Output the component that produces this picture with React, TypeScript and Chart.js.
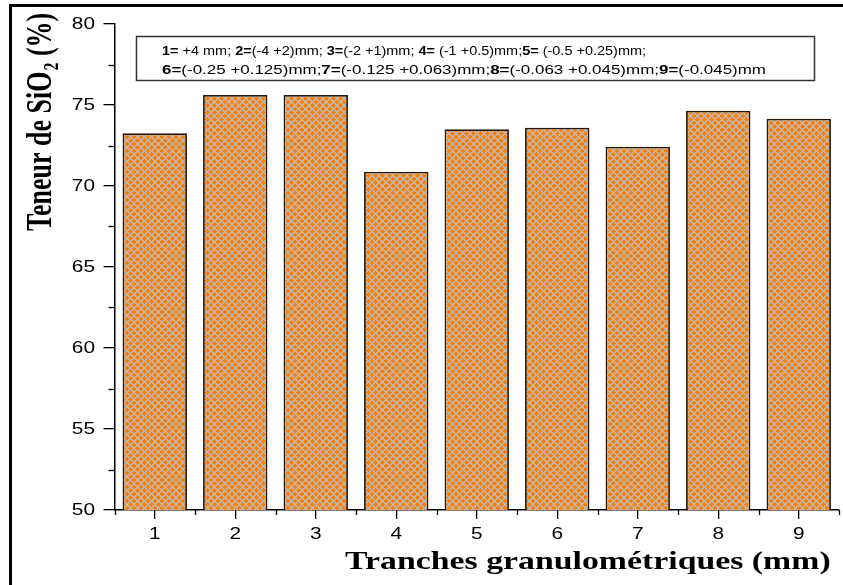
import React, { useEffect, useRef } from 'react';
import { Chart, registerables } from 'chart.js';

Chart.register(...registerables);

const categories = ['1', '2', '3', '4', '5', '6', '7', '8', '9'];
const sio2Values = [73.25, 75.62, 75.62, 70.88, 73.5, 73.6, 72.43, 74.65, 74.15];
const yMajorTicks = [50, 55, 60, 65, 70, 75, 80];
const yMinorTicks = [52.5, 57.5, 62.5, 67.5, 72.5, 77.5];
const xTitle = 'Tranches granulométriques (mm)';
const yTitleParts = ['Teneur de SiO', '2', ' (%)'];
const legendLine1: [string, boolean][] = [
  ['1=', true], [' +4 mm; ', false],
  ['2=', true], ['(-4 +2)mm; ', false],
  ['3=', true], ['(-2 +1)mm; ', false],
  ['4=', true], [' (-1 +0.5)mm;', false],
  ['5=', true], [' (-0.5 +0.25)mm;', false],
];
const legendLine2: [string, boolean][] = [
  ['6=', true], ['(-0.25 +0.125)mm;', false],
  ['7=', true], ['(-0.125 +0.063)mm;', false],
  ['8=', true], ['(-0.063 +0.045)mm;', false],
  ['9=', true], ['(-0.045)mm', false],
];

const SX = 1.3;
const SANS = '"Liberation Sans", Arial, sans-serif';
const SERIF = '"Liberation Serif", "Times New Roman", serif';

function makePattern(): CanvasPattern | string {
  const c = document.createElement('canvas');
  const n = 7;
  c.width = n;
  c.height = n;
  const g = c.getContext('2d');
  if (!g) return '#FF8000';
  const img = g.createImageData(n, n);
  for (let y = 0; y < n; y++) {
    for (let x = 0; x < n; x++) {
      const u = (x + y) % n;
      const v = ((x - y) % n + n) % n;
      const gray = u < 2 || v < 2;
      const i = (y * n + x) * 4;
      if (gray) {
        img.data[i] = 186; img.data[i + 1] = 184; img.data[i + 2] = 182;
      } else {
        img.data[i] = 255; img.data[i + 1] = 128; img.data[i + 2] = 0;
      }
      img.data[i + 3] = 255;
    }
  }
  g.putImageData(img, 0, 0);
  const ctx = document.createElement('canvas').getContext('2d');
  return ctx ? (ctx.createPattern(c, 'repeat') as CanvasPattern) : '#FF8000';
}

function drawStretched(ctx: CanvasRenderingContext2D, text: string, x: number, y: number, align: 'left' | 'center' | 'right', sx = SX) {
  const w = ctx.measureText(text).width * sx;
  let x0 = x;
  if (align === 'center') x0 = x - w / 2;
  if (align === 'right') x0 = x - w;
  ctx.save();
  ctx.translate(x0, y);
  ctx.scale(sx, 1);
  ctx.textAlign = 'left';
  ctx.fillText(text, 0, 0);
  ctx.restore();
  return w;
}

const decorPlugin = {
  id: 'decor',
  afterDraw(chart: any) {
    const ctx: CanvasRenderingContext2D = chart.ctx;
    const xs = chart.scales.x;
    const ys = chart.scales.y;
    ctx.save();
    ctx.fillStyle = '#000';
    ctx.strokeStyle = '#000';

    // y tick labels
    ctx.font = `16px ${SANS}`;
    ctx.textBaseline = 'middle';
    yMajorTicks.forEach((v) => {
      drawStretched(ctx, String(v), 95, ys.getPixelForValue(v) + 1, 'right');
    });
    // y minor ticks
    ctx.lineWidth = 1.3;
    const axX = xs.left;
    yMinorTicks.forEach((v) => {
      const py = Math.round(ys.getPixelForValue(v)) + 0.5;
      ctx.beginPath();
      ctx.moveTo(axX - 6, py);
      ctx.lineTo(axX, py);
      ctx.stroke();
    });

    // x tick labels
    categories.forEach((c, i) => {
      drawStretched(ctx, c, xs.getPixelForValue(i), 535, 'center');
    });
    // x minor ticks at category boundaries
    const axY = ys.bottom;
    for (let i = 0; i <= categories.length; i++) {
      const px = Math.round(xs.getPixelForValue(i - 0.5)) + 0.5;
      ctx.beginPath();
      ctx.moveTo(px, axY);
      ctx.lineTo(px, axY + 5);
      ctx.stroke();
    }

    // x title
    ctx.font = `bold 26px ${SERIF}`;
    ctx.textBaseline = 'alphabetic';
    drawStretched(ctx, xTitle, 345, 569, 'left');

    // y title (rotated)
    ctx.save();
    ctx.translate(51, 231);
    ctx.rotate(-Math.PI / 2);
    ctx.scale(1, 1.35);
    ctx.textAlign = 'left';
    ctx.font = `bold 26px ${SERIF}`;
    let tx = 0;
    ctx.fillText(yTitleParts[0], tx, 0);
    tx += ctx.measureText(yTitleParts[0]).width;
    ctx.font = `bold 16px ${SERIF}`;
    ctx.fillText(yTitleParts[1], tx + 1, 5);
    tx += ctx.measureText(yTitleParts[1]).width + 1;
    ctx.font = `bold 26px ${SERIF}`;
    ctx.fillText(yTitleParts[2], tx, 0);
    ctx.restore();

    // legend box
    ctx.fillStyle = '#fff';
    ctx.fillRect(136, 36, 679, 45);
    ctx.lineWidth = 1.5;
    ctx.strokeStyle = '#333';
    ctx.strokeRect(136.5, 36.5, 678, 44);
    ctx.fillStyle = '#000';
    ctx.textBaseline = 'alphabetic';
    const measureLine = (parts: [string, boolean][]) => {
      let w = 0;
      parts.forEach(([t, b]) => {
        ctx.font = `${b ? 'bold ' : ''}12.5px ${SANS}`;
        w += ctx.measureText(t).width;
      });
      return w;
    };
    const drawLine = (parts: [string, boolean][], y: number, targetW: number) => {
      const legSx = targetW / measureLine(parts);
      let x = 162;
      parts.forEach(([t, b]) => {
        ctx.font = `${b ? 'bold ' : ''}12.5px ${SANS}`;
        x += drawStretched(ctx, t, x, y, 'left', legSx);
      });
    };
    drawLine(legendLine1, 55, 484);
    drawLine(legendLine2, 73.5, 604);

    ctx.restore();
  },
};

export default function App() {
  const ref = useRef<HTMLCanvasElement>(null);
  useEffect(() => {
    if (!ref.current) return;
    const pattern = makePattern();
    const chart = new Chart(ref.current, {
      type: 'bar',
      data: {
        labels: categories,
        datasets: [
          {
            data: sio2Values,
            backgroundColor: pattern as any,
            borderColor: '#24180c',
            borderWidth: 1.8,
            barPercentage: 0.8,
            categoryPercentage: 1,
          },
        ],
      },
      options: {
        responsive: false,
        maintainAspectRatio: false,
        animation: false,
        layout: { padding: { top: 24, left: 0, right: 4, bottom: 0 } },
        plugins: { legend: { display: false }, tooltip: { enabled: false } },
        scales: {
          x: {
            type: 'category',
            offset: true,
            ticks: { display: false },
            grid: { display: true, offset: false, drawOnChartArea: false, drawTicks: true, tickLength: 9, color: '#000', lineWidth: 1.3 },
            border: { display: true, color: '#000', width: 1.5 },
            afterFit: (s: any) => { s.height = 75; },
          },
          y: {
            min: 50,
            max: 80,
            ticks: { display: false, stepSize: 5 },
            grid: { display: true, drawOnChartArea: false, drawTicks: true, tickLength: 11, color: '#000', lineWidth: 1.3 },
            border: { display: true, color: '#000', width: 1.5 },
            afterFit: (s: any) => { s.width = 114.5; },
          },
        },
      },
      plugins: [decorPlugin],
    });
    return () => chart.destroy();
  }, []);
  return (
    <div style={{ position: 'absolute', left: 0, top: 0, width: 843, height: 585, background: '#fff', overflow: 'hidden' }}>
      <div style={{ position: 'absolute', left: 9, top: 4, width: 834, height: 581, borderTop: '3px solid #000', borderLeft: '3px solid #000', boxSizing: 'border-box' }} />
      <canvas ref={ref} width={843} height={585} style={{ position: 'absolute', left: 0, top: 0, display: 'block' }} />
    </div>
  );
}
